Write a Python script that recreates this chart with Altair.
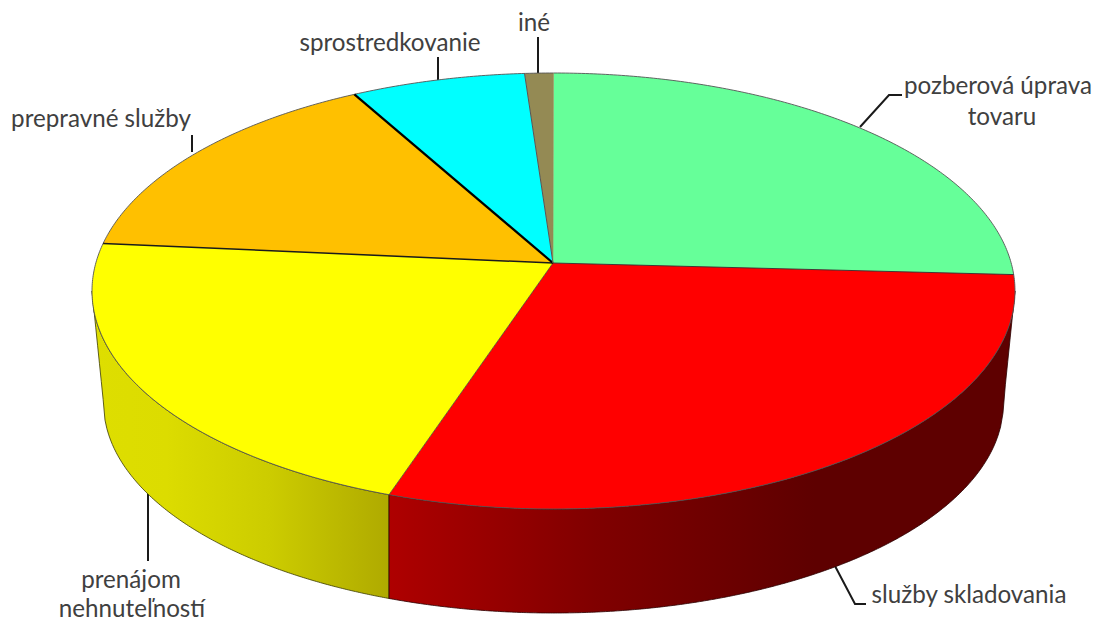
import math
import altair as alt
import pandas as pd

# Slice shares (percent of the rim, clockwise from the top)
NAMES = ["pozberová úprava tovaru", "služby skladovania", "prenájom nehnuteľností",
         "prepravné služby", "sprostredkovanie", "iné"]
SHARES = [23.8, 32.0, 22.7, 14.4, 6.1, 1.0]
COLORS = ["#66FF99", "#FF0000", "#FFFF00", "#FFC000", "#00FFFF", "#948A54"]
EDGE_COLORS = ["#303030", "#303030", "#1a1a1a", "#000000", "#555555", "#948A54"]
EDGE_WIDTHS = [0.9, 0.7, 1.5, 2.2, 1.0, 0.5]

LABEL_TEXT = ["pozberová úprava", "tovaru", "služby skladovania", "prenájom", "nehnuteľností",
              "prepravné služby", "sprostredkovanie", "iné"]
LABEL_X = [998, 1002, 969, 131, 132, 101, 390, 534]
LABEL_Y = [87, 118, 596, 581, 610, 120, 44, 24]

LEADER_ID = [0, 0, 0, 1, 1, 1, 2, 2, 3, 3, 4, 4, 5, 5]
LEADER_X = [860, 889, 902, 835, 855, 866, 148, 148, 192, 192, 438, 438, 538, 538]
LEADER_Y = [127, 95, 95, 566, 604, 604, 490, 561, 135, 152, 57, 80, 37, 73]

# Projection of the disc
CX, CY, RX, RY = 553.5, 291, 461.5, 218
APEX = (553, 263)
BCY, BRX, BRY = 403, 450, 210


def rim(t_deg):
    t = math.radians(t_deg)
    return CX + RX * math.sin(t), CY - RY * math.cos(t)


def top_low(x):
    s = min(1, abs(x - CX) / RX)
    return CY + RY * math.sqrt(1 - s * s)


def bottom(x):
    d = abs(x - CX)
    if d <= BRX:
        return BCY + BRY * math.sqrt(1 - (d / BRX) ** 2)
    return CY + (RX - d) / (RX - BRX) * (BCY - CY)


slices, edges, rims = [], [], []
cum = 0.0
total = sum(SHARES)
bounds = []
for k, (n, s) in enumerate(zip(NAMES, SHARES)):
    a0, a1 = cum / total * 360, (cum + s) / total * 360
    bounds.append(a1)
    steps = max(4, int((a1 - a0) / 1.0))
    pts = [APEX] + [rim(a0 + (a1 - a0) * j / steps) for j in range(steps + 1)]
    for i, (x, y) in enumerate(pts):
        slices.append(dict(name=n, i=i, x=x, y=y))
    ex, ey = rim(a1)
    edges.append(dict(e=k, i=0, x=APEX[0], y=APEX[1], w=EDGE_WIDTHS[k], c=EDGE_COLORS[k]))
    edges.append(dict(e=k, i=1, x=ex, y=ey, w=EDGE_WIDTHS[k], c=EDGE_COLORS[k]))
    cum += s

for j in range(0, 721):
    x, y = rim(j / 2)
    rims.append(dict(i=j, x=x, y=y))

split_x = rim(bounds[1])[0]


def wall(x0, x1, n=160):
    rows = []
    for j in range(n + 1):
        x = x0 + (x1 - x0) * j / n
        rows.append(dict(x=x, y=top_low(x), y2=bottom(x)))
    return pd.DataFrame(rows)


X = alt.X("x:Q", scale=alt.Scale(domain=[8, 1095], nice=False, zero=False), axis=None)
Y = alt.Y("y:Q", scale=alt.Scale(domain=[623, 8], nice=False, zero=False), axis=None)

yellow_grad = alt.Gradient(gradient="linear", x1=0, x2=1, y1=0, y2=0, stops=[
    alt.GradientStop(color="#DEDE00", offset=0),
    alt.GradientStop(color="#DCDC00", offset=0.25),
    alt.GradientStop(color="#CCCC00", offset=0.6),
    alt.GradientStop(color="#AFAA00", offset=1)])
red_grad = alt.Gradient(gradient="linear", x1=0, x2=1, y1=0, y2=0, stops=[
    alt.GradientStop(color="#AE0000", offset=0),
    alt.GradientStop(color="#800000", offset=0.33),
    alt.GradientStop(color="#5E0000", offset=0.68),
    alt.GradientStop(color="#5E0000", offset=1)])

leaders = alt.Chart(pd.DataFrame(dict(id=LEADER_ID, i=range(len(LEADER_ID)), x=LEADER_X, y=LEADER_Y))).mark_line(
    color="#1a1a1a", strokeWidth=2).encode(x=X, y=Y, detail="id:N", order="i:Q")

wall_y = alt.Chart(wall(CX - RX, split_x)).mark_area(
    fill=yellow_grad, stroke="#3a3a00", strokeWidth=0.8).encode(x=X, y=Y, y2="y2:Q")
wall_r = alt.Chart(wall(split_x, CX + RX, 260)).mark_area(
    fill=red_grad, stroke="#2a0000", strokeWidth=0.8).encode(x=X, y=Y, y2="y2:Q")

tops = alt.Chart(pd.DataFrame(slices)).mark_line(strokeWidth=0, interpolate="linear").encode(
    x=X, y=Y,
    fill=alt.Fill("name:N", scale=alt.Scale(domain=NAMES, range=COLORS), legend=None),
    detail="name:N", order="i:Q")

rim_line = alt.Chart(pd.DataFrame(rims)).mark_line(color="#555555", strokeWidth=0.9).encode(
    x=X, y=Y, order="i:Q")

edge_line = alt.Chart(pd.DataFrame(edges)).mark_line().encode(
    x=X, y=Y, detail="e:N", order="i:Q",
    stroke=alt.Stroke("c:N", scale=None),
    strokeWidth=alt.StrokeWidth("w:Q", scale=None))

labels = alt.Chart(pd.DataFrame(dict(t=LABEL_TEXT, x=LABEL_X, y=LABEL_Y))).mark_text(
    font="Lato", fontSize=24.2, color="#404040", align="center", baseline="middle").encode(
    x=X, y=Y, text="t:N")

chart = alt.layer(leaders, wall_y, wall_r, tops, rim_line, edge_line, labels).properties(
    width=1087, height=615, padding=0, background="white",
    autosize=alt.AutoSizeParams(type="none")
).configure_view(stroke=None)

chart.save("out.html", embed_options={"renderer": "svg", "actions": False})
